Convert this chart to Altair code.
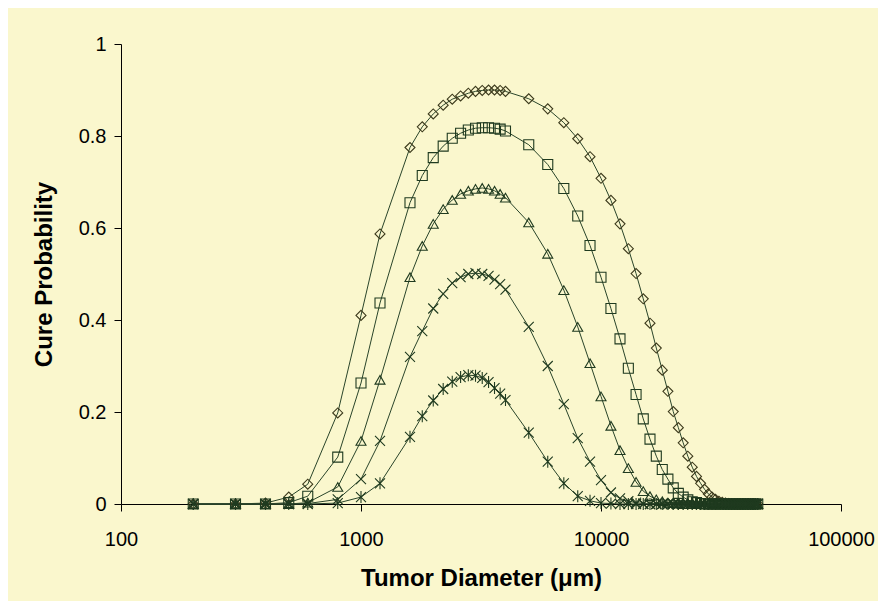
import altair as alt
import pandas as pd

# Tumor diameters (micrometres)
diameters = [200, 300, 400, 500, 600, 800, 1000, 1200,
             1600, 1800, 2000, 2200, 2400, 2600, 2800, 3000, 3200, 3400, 3600, 3800, 4000,
             5000, 6000, 7000, 8000, 9000,
             10000, 11000, 12000, 13000, 14000, 15000, 16000, 17000, 18000, 19000,
             20000, 21000, 22000, 23000, 24000, 25000, 26000, 27000, 28000, 29000,
             30000, 31000, 32000, 33000, 34000, 35000, 36000, 37000, 38000, 39000,
             40000, 41000, 42000, 43000, 44000, 45000]

cure_diamond = [0, 0, 0.002, 0.015, 0.043, 0.198, 0.41, 0.587,
                0.775, 0.82, 0.848, 0.867, 0.88, 0.887, 0.893, 0.897, 0.899, 0.9, 0.9, 0.899, 0.897,
                0.881, 0.859, 0.829, 0.794, 0.755,
                0.708, 0.66, 0.609, 0.555, 0.501, 0.446, 0.393, 0.339, 0.291, 0.245,
                0.201, 0.166, 0.133, 0.104, 0.08, 0.06, 0.045, 0.032, 0.022, 0.015,
                0.01, 0.006, 0.004, 0.002, 0.001, 0, 0, 0, 0, 0,
                0, 0, 0, 0, 0, 0]

cure_square = [0, 0, 0, 0.003, 0.017, 0.102, 0.263, 0.437,
               0.655, 0.714, 0.753, 0.778, 0.795, 0.806, 0.813, 0.817, 0.818, 0.818, 0.817, 0.815, 0.811,
               0.781, 0.738, 0.686, 0.626, 0.562,
               0.493, 0.425, 0.359, 0.295, 0.238, 0.185, 0.141, 0.104, 0.075, 0.054,
               0.035, 0.023, 0.015, 0.009, 0.005, 0.003, 0.001, 0, 0, 0,
               0, 0, 0, 0, 0, 0, 0, 0, 0, 0,
               0, 0, 0, 0, 0, 0]

cure_triangle = [0, 0, 0, 0, 0.003, 0.037, 0.137, 0.27,
                 0.493, 0.561, 0.609, 0.641, 0.661, 0.674, 0.681, 0.685, 0.687, 0.685, 0.681, 0.674, 0.666,
                 0.612, 0.544, 0.465, 0.385, 0.306,
                 0.234, 0.17, 0.117, 0.078, 0.048, 0.028, 0.017, 0.01, 0.006, 0.003,
                 0.002, 0.001, 0, 0, 0, 0, 0, 0, 0, 0,
                 0, 0, 0, 0, 0, 0, 0, 0, 0, 0,
                 0, 0, 0, 0, 0, 0]

cure_x = [0, 0, 0, 0, 0.001, 0.01, 0.054, 0.137,
          0.32, 0.376, 0.425, 0.457, 0.48, 0.493, 0.5, 0.502, 0.5, 0.496, 0.488, 0.478, 0.466,
          0.385, 0.3, 0.217, 0.143, 0.092,
          0.052, 0.025, 0.012, 0.006, 0.003, 0.001, 0, 0, 0, 0,
          0, 0, 0, 0, 0, 0, 0, 0, 0, 0,
          0, 0, 0, 0, 0, 0, 0, 0, 0, 0,
          0, 0, 0, 0, 0, 0]

cure_star = [0, 0, 0, 0, 0, 0.002, 0.015, 0.045,
             0.146, 0.191, 0.225, 0.25, 0.266, 0.276, 0.28, 0.279, 0.274, 0.265, 0.252, 0.24, 0.226,
             0.155, 0.092, 0.045, 0.017, 0.007,
             0.002, 0.001, 0, 0, 0, 0, 0, 0, 0, 0,
             0, 0, 0, 0, 0, 0, 0, 0, 0, 0,
             0, 0, 0, 0, 0, 0, 0, 0, 0, 0,
             0, 0, 0, 0, 0, 0]

series_names = ["A", "B", "C", "D", "E"]
series_values = [cure_diamond, cure_square, cure_triangle, cure_x, cure_star]
marker_shapes = ["diamond", "square", "triangle-up",
                 "M-1,-1L1,1M-1,1L1,-1",
                 "M-1,-1L1,1M-1,1L1,-1M0,-1.2L0,1.2"]
marker_colors = ["#3c3a1c", "#1f3a1f", "#1f3a1f", "#1f3a1f", "#1f3a1f"]

rows = []
for name, vals in zip(series_names, series_values):
    for d, p in zip(diameters, vals):
        rows.append({"d": d, "p": p, "s": name})
df = pd.DataFrame(rows)

FONT = "Liberation Sans"

x_enc = alt.X("d:Q",
              scale=alt.Scale(type="log", domain=[100, 100000]),
              axis=alt.Axis(values=[100, 1000, 10000, 100000], format="d",
                            title="Tumor Diameter (\u03bcm)", grid=False, labelFlush=False,
                            tickSize=7, labelPadding=18, titlePadding=17))
y_enc = alt.Y("p:Q",
              scale=alt.Scale(domain=[0, 1]),
              axis=alt.Axis(values=[0, 0.2, 0.4, 0.6, 0.8, 1], format="~g",
                            title="Cure Probability", grid=False, labelFlush=False,
                            tickSize=7, labelPadding=8, titlePadding=22))

base = alt.Chart(df).encode(x=x_enc, y=y_enc)

lines = base.mark_line(strokeWidth=1, color="#2a452a").encode(detail="s:N")

points = base.mark_point(filled=False, strokeWidth=1.1, size=100, opacity=1).encode(
    shape=alt.Shape("s:N", scale=alt.Scale(domain=series_names, range=marker_shapes), legend=None),
    color=alt.Color("s:N", scale=alt.Scale(domain=series_names, range=marker_colors), legend=None),
)

chart = (lines + points).properties(
    width=720, height=460,
    background="#faf7cd",
    padding={"left": 113, "top": 36, "right": 37, "bottom": 97},
    autosize=alt.AutoSizeParams(type="none"),
).configure_view(stroke=None).configure_axis(
    domainColor="black", tickColor="black", labelColor="black", titleColor="black",
    labelFont=FONT, titleFont=FONT, labelFontSize=20, titleFontSize=24,
    titleFontWeight="bold", labelFontWeight="normal",
)

chart.save("out.html", embed_options={"renderer": "svg", "actions": False})
